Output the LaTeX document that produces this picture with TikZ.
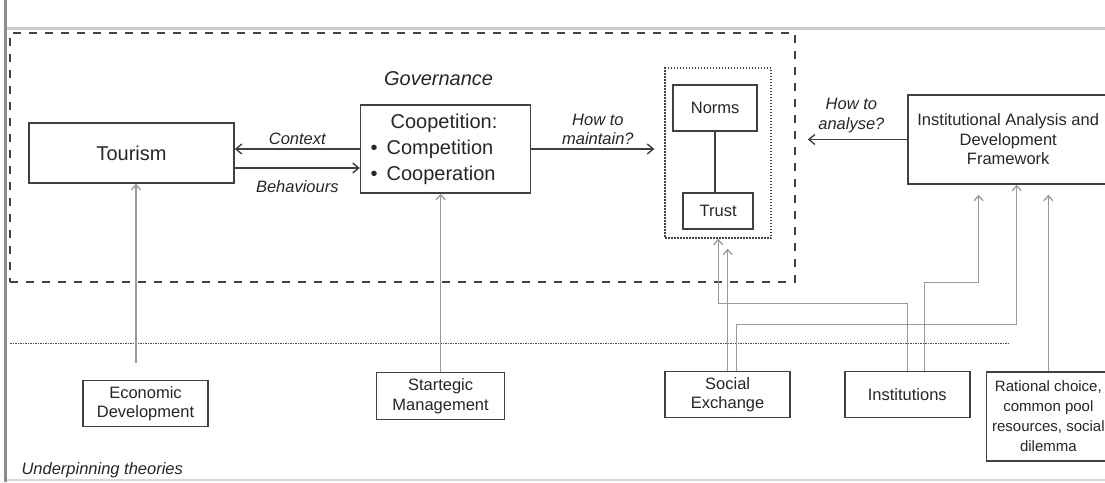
\documentclass[tikz,border=0pt]{standalone}
\usepackage{fontspec}
\setmainfont{Liberation Sans}
\usetikzlibrary{arrows.meta, positioning}

\begin{document}
\begin{tikzpicture}[
    x=1pt, y=-1pt,
    >={Straight Barb[length=6pt,width=10pt]},
    font=\fontsize{16.5}{19.5}\selectfont,
    every node/.style={text=black!85},
    box/.style={draw=black!75, line width=1.6pt, align=center, inner sep=0pt},
    bigbox/.style={box, font=\fontsize{20}{26}\selectfont},
    theory/.style={box, minimum width=125pt, minimum height=46pt},
    coreset/.style={draw=black!75, line width=1.5pt, dash pattern=on 1.5pt off 1.5pt,
                    minimum width=106pt, minimum height=170pt},
    govbox/.style={draw=black!75, line width=1.6pt, dash pattern=on 8pt off 8pt},
    link/.style={->, draw=black!75, line width=1.4pt},
    feed/.style={-{Straight Barb[length=5pt,width=9pt]}, draw=black!40, line width=1.3pt},
    tag/.style={font=\fontsize{16.5}{19.5}\selectfont\itshape, align=center},
    sepline/.style={draw=black!70, line width=1pt, dash pattern=on 1.5pt off 1pt},
]
\useasboundingbox (0,0) rectangle (1105,482);

% scan border
\draw[black!45, line width=3pt] (5.5,0) -- (5.5,482);
\draw[black!20, line width=3pt] (7,28.5) -- (1105,28.5);
\draw[black!15, line width=2pt] (7,480) -- (1105,480);

\node[govbox, minimum width=785pt, minimum height=249pt] (gov) at (402.5,157.5) {};

\node[bigbox, minimum width=205pt, minimum height=60pt] (tourism) at (131.5,153) {Tourism};
\node[bigbox, minimum width=170pt, minimum height=88pt, text width=150pt, inner xsep=10pt,
      align=left, right=125pt of tourism, yshift=4pt] (coop)
      {\hspace*{20pt}Coopetition:\\\textbullet\hspace{9pt}Competition\\\textbullet\hspace{9pt}Cooperation};
\node[tag, font=\fontsize{20}{24}\selectfont\itshape, inner sep=2pt,
      above=16pt of coop, xshift=-7pt] (govtitle) {Governance};
\node[coreset, right=133pt of coop, yshift=-4pt] (core) {};
\node[box, minimum width=84pt, minimum height=46pt, below=17pt of core.north, xshift=-3pt] (norms) {Norms};
\node[box, minimum width=70pt, minimum height=36pt, above=9pt of core.south] (trust) {Trust};
\node[box, minimum width=201pt, minimum height=89pt, right=135pt of core, yshift=13.5pt] (iad)
      {Institutional Analysis and\\Development\\Framework};

\draw[link] (coop.west) -- node[tag, above]{Context} (coop.west -| tourism.east);
\draw[link] ([yshift=-15pt]tourism.east) -- node[tag, below=9pt]{Behaviours}
            ([yshift=-15pt]tourism.east -| coop.west);
\draw[link, shorten >=10pt] (coop.east) -- node[tag, above]{How to\\maintain?} (coop.east -| core.west);
\draw[draw=black!75, line width=1.4pt] (norms.south) -- (norms.south |- trust.north);
\draw[link, shorten >=12pt] (iad.west) -- node[tag, above=3pt]{How to\\analyse?} (iad.west -| gov.east);

% underpinning theories
\coordinate (sepL) at (10,343);
\coordinate (sepR) at (1010,343);
\draw[sepline] (sepL) -- (sepR);

\node[theory, below=196pt of tourism, xshift=14pt] (econ) {Economic\\Development};
\node[theory, minimum width=128pt, minimum height=47pt, below=178pt of coop, xshift=-5pt] (strat)
      {Startegic\\Management};
\node[theory, below=132pt of core, xshift=9.5pt] (social) {Social\\Exchange};
\node[theory, right=53pt of social] (inst) {Institutions};
\node[theory, minimum width=124pt, minimum height=89pt, font=\fontsize{15}{20}\selectfont,
      right=15pt of inst, yshift=-22pt] (rational)
      {Rational choice,\\common pool\\resources, social\\dilemma};
\node[tag, anchor=base west] (under) at (18,474) {Underpinning theories};

\draw[feed, shorten <=17pt] ([xshift=-9.5pt]econ.north) -- ([xshift=-9.5pt]econ.north |- tourism.south);
\draw[feed] (strat.north) -- (strat.north |- coop.south);
\draw[feed, shorten >=10pt] (social.north) -- (social.north |- core.south);
\draw[feed] (inst.north) -- ++(0,-67) -| (core.south);
\draw[feed] ([xshift=8.5pt]social.north) -- ++(0,-46) -| ([xshift=8.5pt]iad.south);
\draw[feed, shorten >=10pt] ([xshift=17.5pt]inst.north) -- ++(0,-88) -| ([xshift=-29.5pt]iad.south);
\draw[feed, shorten >=10pt] (rational.north) -- (rational.north |- iad.south);

\end{tikzpicture}
\end{document}
